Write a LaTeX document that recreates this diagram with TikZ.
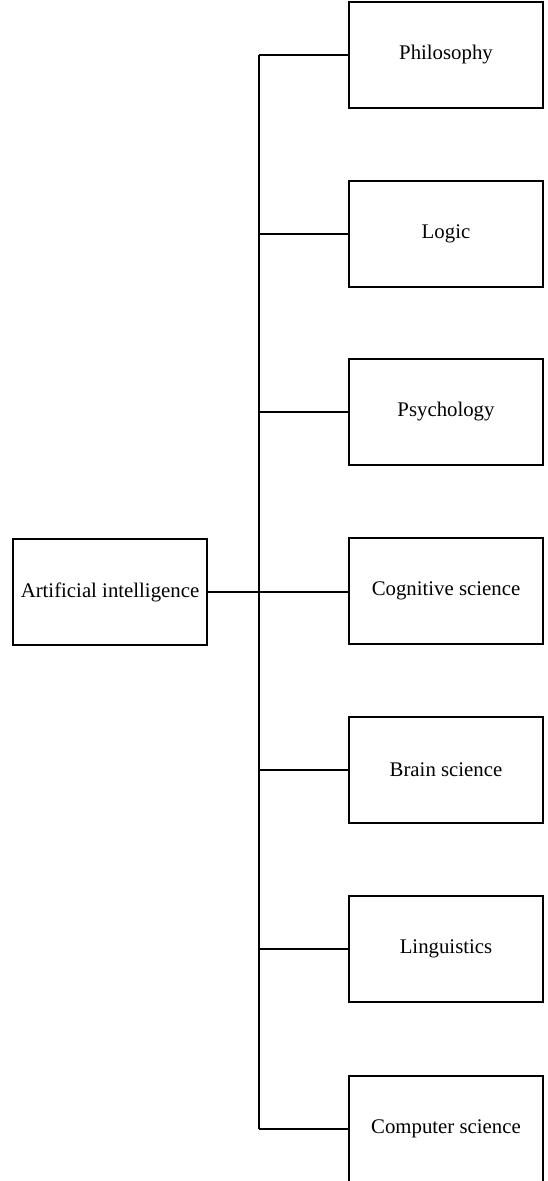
\documentclass[tikz,border=0pt]{standalone}
\usepackage{fontspec}
\setmainfont{Liberation Serif}
\begin{document}
\begin{tikzpicture}[x=1pt,y=-1pt,
  box/.style={draw, line width=1.2pt, minimum width=194pt, minimum height=106pt, inner sep=0pt, font=\fontsize{20.8}{25}\selectfont},
  link/.style={line width=1.2pt},
  trunkline/.style={line width=1.6pt}]
\useasboundingbox (0,0) rectangle (547,1181);
\node[box] (ai) at (110,592) {Artificial intelligence};
\node[box] (ph) at (446,55) {Philosophy};
\node[box] (lo) at (446,234) {Logic};
\node[box] (ps) at (446,412) {Psychology};
\node[box] (cg) at (446,591) {Cognitive science};
\node[box] (br) at (446,770) {Brain science};
\node[box] (li) at (446,949) {Linguistics};
\node[box] (cs) at (446,1129) {Computer science};
\coordinate (tx) at (259,0);
\draw[trunkline] (ph.west -| tx) -- (cs.west -| tx);
\foreach \n in {ph,lo,ps,br,li,cs} {
  \draw[link] (\n.west) -- (\n.west -| tx);
}
\draw[link] (ai.east) -- (ai.east -| cg.west);
\end{tikzpicture}
\end{document}
